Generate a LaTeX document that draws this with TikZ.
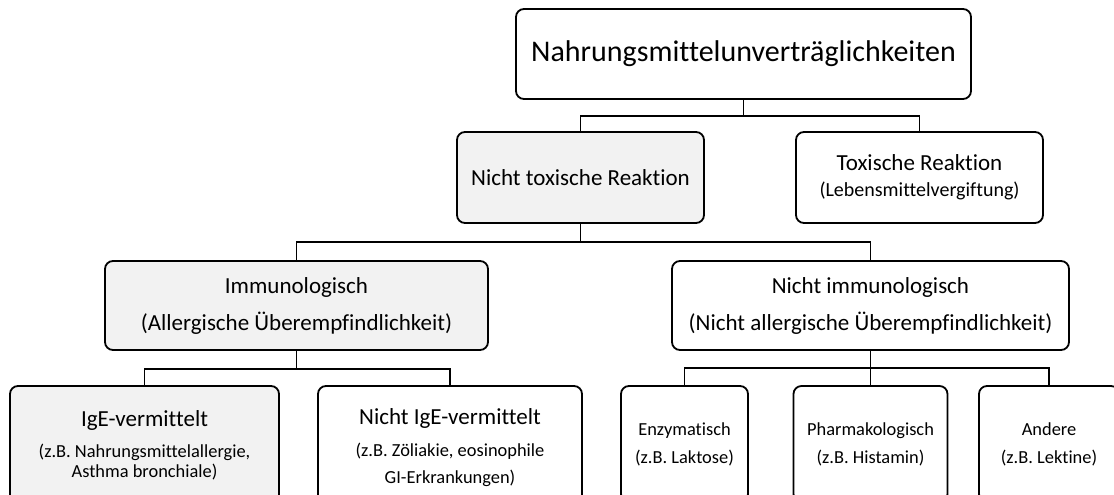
\documentclass[tikz,border=0pt]{standalone}
\usepackage{fontspec}
\setmainfont{Carlito}[Ligatures=CommonOff]
\begin{document}
\begin{tikzpicture}[x=0.5pt,y=-0.5pt,
  box/.style={draw, line width=0.9pt, rounded corners=4pt, align=center, inner sep=0pt, font=\fontsize{11.5}{13.8}\selectfont},
  grey/.style={fill=gray!10},
  small/.style={font=\fontsize{9.2}{10.2}\selectfont},
  line/.style={line width=0.75pt}]

\useasboundingbox (0,0) rectangle (1114,494);
\clip (0,0) rectangle (1114,494);

\node[box, minimum width=227.5pt, minimum height=45pt, font=\fontsize{15}{18}\selectfont] (nmu) at (743.5,54) {Nahrungsmittelunverträglichkeiten};

\node[box, grey, minimum width=123.5pt, minimum height=45.5pt] (ntox) at (580.5,177.5) {Nicht toxische Reaktion};
\node[box, minimum width=123.5pt, minimum height=45.5pt, font=\fontsize{11.5}{13}\selectfont] (tox) at (919.5,177.5) {Toxische Reaktion\\{\fontsize{10}{13}\selectfont (Lebensmittelvergiftung)}};

\node[box, grey, minimum width=191.5pt, minimum height=44.5pt] (imm) at (296.5,305.5) {Immunologisch\\[4.7pt](Allergische Überempfindlichkeit)};
\node[box, minimum width=198.5pt, minimum height=44.5pt] (nimm) at (870.5,305.5) {Nicht immunologisch\\[4.7pt](Nicht allergische Überempfindlichkeit)};

\node[box, grey, small, minimum width=134.5pt, minimum height=59pt] (ige) at (144.5,445) {{\fontsize{11.5}{10}\selectfont IgE-vermittelt}\\[5.3pt](z.B. Nahrungsmittelallergie,\\Asthma bronchiale)};
\node[box, minimum width=132pt, minimum height=62pt, font=\fontsize{9.2}{13.5}\selectfont] (nige) at (450,448) {{\fontsize{11.5}{10}\selectfont Nicht IgE-vermittelt}\\[2.5pt](z.B. Zöliakie, eosinophile\\GI-Erkrankungen)};

\node[box, minimum width=63.5pt, minimum height=58pt, font=\fontsize{9.2}{14}\selectfont] (enz) at (684.5,444) {Enzymatisch\\(z.B. Laktose)};
\node[box, minimum width=77pt, minimum height=58pt, font=\fontsize{9.2}{14}\selectfont] (pharm) at (870.5,444) {Pharmakologisch\\(z.B. Histamin)};
\node[box, minimum width=70pt, minimum height=58pt, font=\fontsize{9.2}{14}\selectfont] (andere) at (1049,444) {Andere\\(z.B. Lektine)};

\coordinate (bus1) at (0,116);
\coordinate (bus2) at (0,242);
\coordinate (bus3) at (0,369);
\coordinate (bus4) at (0,368);

\draw[line] (nmu.south) -- (nmu.south |- bus1);
\draw[line] (ntox.north) |- (tox.north |- bus1) -- (tox.north);

\draw[line] (ntox.south) -- (ntox.south |- bus2);
\draw[line] (imm.north) |- (nimm.north |- bus2) -- (nimm.north);

\draw[line] (imm.south) -- (imm.south |- bus3);
\draw[line] (ige.north) |- (nige.north |- bus3) -- (nige.north);

\draw[line] (nimm.south) -- (pharm.north);
\draw[line] (enz.north) |- (andere.north |- bus4) -- (andere.north);
\end{tikzpicture}
\end{document}
